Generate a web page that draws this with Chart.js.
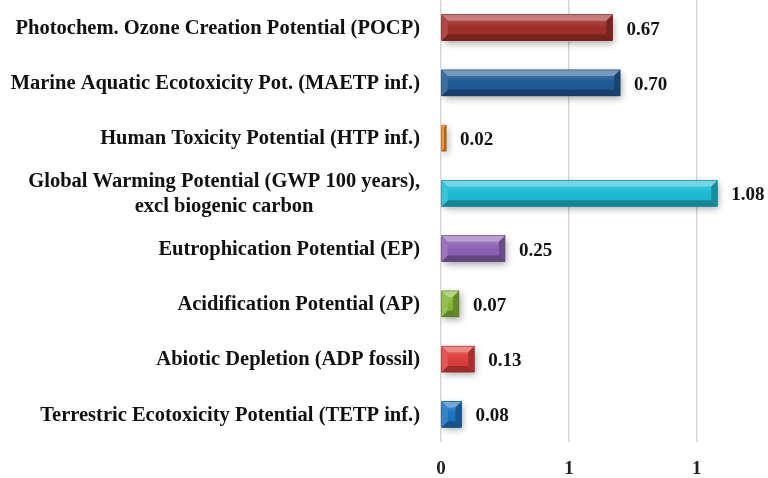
<!DOCTYPE html>
<html>
<head>
<meta charset="utf-8">
<script src="https://cdn.jsdelivr.net/npm/chart.js@4"></script>
<style>
  html, body { margin: 0; padding: 0; background: #ffffff; }
  #wrap { width: 768px; height: 478px; position: relative; }
</style>
</head>
<body>
<div id="wrap"><canvas id="c" width="768" height="478"></canvas></div>
<script>
// Impact categories, top to bottom
const categories = [
  'Photochem. Ozone Creation Potential (POCP)',
  'Marine Aquatic Ecotoxicity Pot. (MAETP inf.)',
  'Human Toxicity Potential (HTP inf.)',
  ['Global Warming Potential (GWP 100 years),', 'excl biogenic carbon'],
  'Eutrophication Potential (EP)',
  'Acidification Potential (AP)',
  'Abiotic Depletion (ADP fossil)',
  'Terrestric Ecotoxicity Potential (TETP inf.)'
];
const values = [0.67, 0.70, 0.02, 1.08, 0.25, 0.07, 0.13, 0.08];
const barColors = ['#A3302C', '#215A95', '#F08A24', '#1FBCD4', '#8E62B5', '#86B83A', '#E0403E', '#1E73C0'];
const xTickValues = [0, 0.5, 1];

const FONT = '"Liberation Serif", "DejaVu Serif", serif';

function hexToRgb(h) {
  const n = parseInt(h.slice(1), 16);
  return [(n >> 16) & 255, (n >> 8) & 255, n & 255];
}
function mix(h, target, t) {
  const c = hexToRgb(h);
  const r = c.map(v => Math.round(v + (target - v) * t));
  return 'rgb(' + r.join(',') + ')';
}
const lighter = (h, t) => mix(h, 255, t);
const darker = (h, t) => mix(h, 0, t);

function poly(ctx, pts, fill) {
  ctx.beginPath();
  ctx.moveTo(pts[0][0], pts[0][1]);
  for (let i = 1; i < pts.length; i++) ctx.lineTo(pts[i][0], pts[i][1]);
  ctx.closePath();
  ctx.fillStyle = fill;
  ctx.fill();
}

// Soft drop shadow under the bars, then bevelled faces and value labels on top
const bevelBars = {
  id: 'bevelBars',
  beforeDatasetsDraw(chart) {
    const ctx = chart.ctx;
    ctx.save();
    ctx.shadowColor = 'rgba(0,0,0,0.35)';
    ctx.shadowBlur = 7;
    ctx.shadowOffsetX = 2;
    ctx.shadowOffsetY = 3;
  },
  afterDatasetsDraw(chart) {
    const ctx = chart.ctx;
    ctx.restore();
    const meta = chart.getDatasetMeta(0);
    meta.data.forEach((bar, i) => {
      const c = barColors[i];
      const x0 = bar.base, x1 = bar.x;
      const y0 = bar.y - bar.height / 2, y1 = bar.y + bar.height / 2;
      const b = Math.min(6, (x1 - x0) / 2, (y1 - y0) / 2);
      ctx.save();
      const g = ctx.createLinearGradient(0, y0, 0, y1);
      g.addColorStop(0, lighter(c, 0.25));
      g.addColorStop(0.45, c);
      g.addColorStop(1, darker(c, 0.08));
      ctx.fillStyle = g;
      ctx.fillRect(x0, y0, x1 - x0, y1 - y0);
      poly(ctx, [[x0, y0], [x1, y0], [x1 - b, y0 + b], [x0 + b, y0 + b]], lighter(c, 0.38));
      poly(ctx, [[x0, y1], [x1, y1], [x1 - b, y1 - b], [x0 + b, y1 - b]], darker(c, 0.3));
      poly(ctx, [[x0, y0], [x0 + b, y0 + b], [x0 + b, y1 - b], [x0, y1]], lighter(c, 0.12));
      poly(ctx, [[x1, y0], [x1 - b, y0 + b], [x1 - b, y1 - b], [x1, y1]], darker(c, 0.25));
      ctx.strokeStyle = darker(c, 0.35);
      ctx.lineWidth = 0.6;
      ctx.strokeRect(x0, y0, x1 - x0, y1 - y0);
      ctx.restore();

      // value label
      ctx.save();
      ctx.font = 'bold 19px ' + FONT;
      ctx.fillStyle = '#111111';
      ctx.textAlign = 'left';
      ctx.textBaseline = 'middle';
      ctx.fillText(values[i].toFixed(2), x1 + 14, bar.y + 2);
      ctx.restore();
    });
  },
  // category labels: block right-aligned, lines of a wrapped label centred on each other
  afterDraw(chart) {
    const ctx = chart.ctx;
    const yScale = chart.scales.y;
    const right = chart.chartArea.left - 21;
    const lh = 25;
    ctx.save();
    ctx.font = 'bold 20.5px ' + FONT;
    ctx.fillStyle = '#111111';
    ctx.textBaseline = 'middle';
    ctx.textAlign = 'center';
    categories.forEach((lab, i) => {
      const lines = Array.isArray(lab) ? lab : [lab];
      const w = Math.max(...lines.map(l => ctx.measureText(l).width));
      const cx = right - w / 2;
      const yc = yScale.getPixelForTick(i);
      lines.forEach((l, k) => {
        ctx.fillText(l, cx, yc + (k - (lines.length - 1) / 2) * lh + 1);
      });
    });
    ctx.restore();
  }
};

new Chart(document.getElementById('c'), {
  type: 'bar',
  data: {
    labels: categories,
    datasets: [{
      data: values,
      backgroundColor: barColors,
      borderWidth: 0,
      barPercentage: 0.47,
      categoryPercentage: 1
    }]
  },
  options: {
    indexAxis: 'y',
    responsive: false,
    animation: false,
    events: [],
    layout: { padding: { top: 0, right: 20, bottom: 0, left: 0 } },
    plugins: { legend: { display: false }, tooltip: { enabled: false } },
    scales: {
      x: {
        min: 0,
        max: 1.2,
        afterBuildTicks(scale) { scale.ticks = xTickValues.map(v => ({ value: v })); },
        afterFit(scale) { scale.height = 36; },
        grid: { color: '#d6d6d6', lineWidth: 1.5, drawTicks: false },
        border: { display: false },
        ticks: {
          padding: 16,
          color: '#222222',
          font: { family: FONT, size: 19, weight: 'bold' },
          callback: v => String(Math.round(v))
        }
      },
      y: {
        afterFit(scale) { scale.width = 441; },
        grid: { display: false },
        border: { display: false },
        ticks: { display: false }
      }
    }
  },
  plugins: [bevelBars]
});
</script>
</body>
</html>
